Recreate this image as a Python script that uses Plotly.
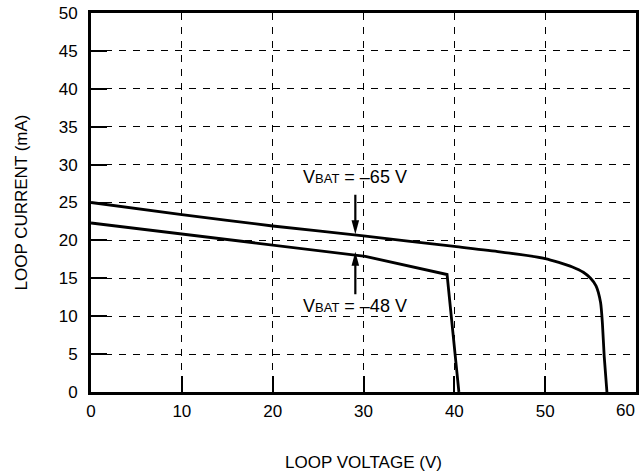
import plotly.graph_objects as go

# Data
v65 = [0, 10, 20, 30, 40, 45, 50, 51.5, 53.0, 54.2, 55.0, 55.6, 56.1, 56.3, 56.5, 56.8]
i65 = [25.0, 23.4, 21.9, 20.6, 19.2, 18.5, 17.6, 17.1, 16.5, 15.8, 15.0, 14.0, 11.8, 9.1, 4.7, 0.0]
v48 = [0, 8.1, 20.8, 30.2, 39.2, 40.5]
i48 = [22.3, 21.1, 19.2, 17.9, 15.5, 0.0]

x_ticks = [0, 10, 20, 30, 40, 50, 60]
x_ticklabels = ["0", "10", "20", "30", "40", "50", "60"]
y_ticks = [0, 5, 10, 15, 20, 25, 30, 35, 40, 45, 50]

label65 = "V<span style='font-size:13px'>BAT</span> = –65 V"
label48 = "V<span style='font-size:13px'>BAT</span> = –48 V"
arrow_v = 29.1
arrow65_tip = 20.8
arrow48_tip = 18.5

FONT = "Liberation Sans, Arial, sans-serif"

fig = go.Figure()
fig.add_trace(go.Scatter(x=v65, y=i65, mode="lines",
                         line=dict(color="black", width=2.8, shape="spline", smoothing=0.6),
                         showlegend=False))
fig.add_trace(go.Scatter(x=v48, y=i48, mode="lines",
                         line=dict(color="black", width=2.8), showlegend=False))

# labels
fig.add_annotation(x=arrow_v, y=28.3, text=label65, showarrow=False,
                   font=dict(family=FONT, size=18, color="black"), xanchor="center")
fig.add_annotation(x=arrow_v, y=11.3, text=label48, showarrow=False,
                   font=dict(family=FONT, size=18, color="black"), xanchor="center")

# arrow stems
fig.add_annotation(x=arrow_v, y=arrow65_tip, ax=0, ay=-41, text="", showarrow=True,
                   arrowhead=0, arrowwidth=2.2, arrowcolor="black", standoff=10)
fig.add_annotation(x=arrow_v, y=arrow48_tip, ax=0, ay=44, text="", showarrow=True,
                   arrowhead=0, arrowwidth=2.2, arrowcolor="black", standoff=10)
# arrow heads
fig.add_shape(type="path", xref="x", yref="y", xsizemode="pixel", ysizemode="pixel",
              xanchor=arrow_v, yanchor=arrow65_tip,
              path="M0,0 L-3.8,14 L3.8,14 Z", fillcolor="black", line=dict(width=0))
fig.add_shape(type="path", xref="x", yref="y", xsizemode="pixel", ysizemode="pixel",
              xanchor=arrow_v, yanchor=arrow48_tip,
              path="M0,0 L-3.8,-14 L3.8,-14 Z", fillcolor="black", line=dict(width=0))

# last x tick label sits at the right edge; place it right-aligned so it stays inside
fig.add_annotation(x=x_ticks[-1], xref="x", y=0, yref="paper", text=x_ticklabels[-1],
                   showarrow=False, xanchor="right", yanchor="middle", xshift=1, yshift=-18,
                   font=dict(family=FONT, size=17, color="black"))

axis_common = dict(
    showline=True, linewidth=3, linecolor="black", mirror=True,
    ticks="inside", ticklen=16, tickwidth=2, tickcolor="black",
    showgrid=True, gridcolor="black", gridwidth=1, griddash="7px,7px",
    zeroline=False, automargin=False, ticklabeloverflow="allow",
    tickfont=dict(family=FONT, size=17, color="black"),
)

fig.update_xaxes(range=[0, 60], tickvals=x_ticks, ticktext=x_ticklabels[:-1] + [""],
                 title=dict(text="LOOP VOLTAGE (V)", font=dict(family=FONT, size=17, color="black"),
                            standoff=36),
                 ticklabelstandoff=2, **axis_common)
fig.update_yaxes(range=[0, 50], tickvals=y_ticks, ticktext=[str(t) for t in y_ticks],
                 title=dict(text="LOOP CURRENT (mA)", font=dict(family=FONT, size=17, color="black"),
                            standoff=27),
                 ticklabelstandoff=7, **axis_common)

fig.update_layout(
    width=639, height=475,
    margin=dict(l=91, r=3, t=13, b=83),
    paper_bgcolor="white", plot_bgcolor="white",
    font=dict(family=FONT, color="black"),
)

# remove the default 8px page margin so the figure fills the window exactly
fig.write_html("out.html", config={"displayModeBar": False},
               post_script="document.body.style.margin='0';document.body.style.overflow='hidden';")
